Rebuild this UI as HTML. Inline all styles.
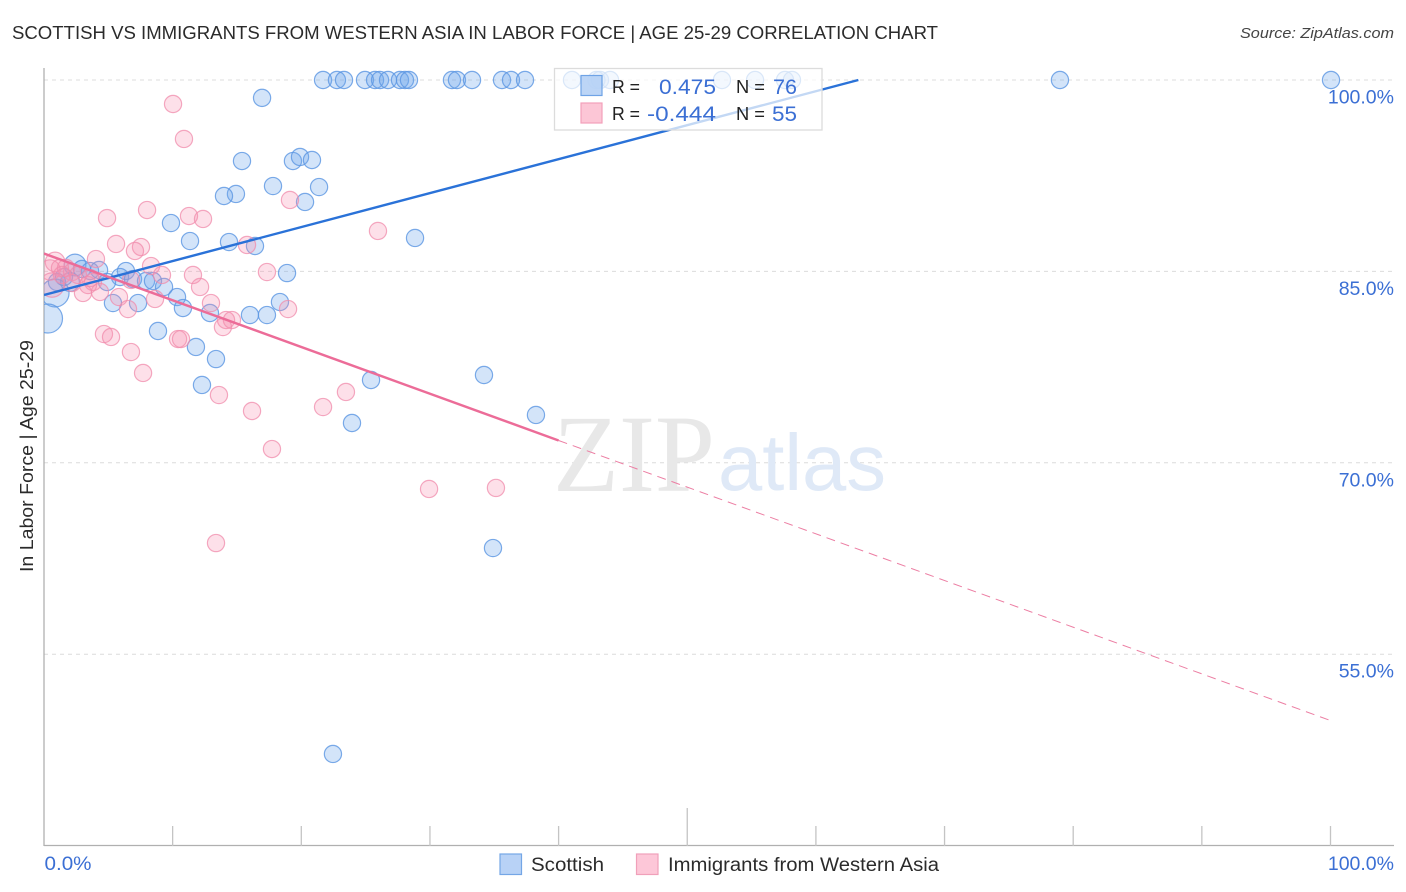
<!DOCTYPE html>
<html lang="en">
<head>
<meta charset="utf-8">
<title>Scottish vs Immigrants from Western Asia in Labor Force | Age 25-29 Correlation Chart</title>
<style>
html,body{margin:0;padding:0;background:#fff;}
svg{display:block;font-family:"Liberation Sans",sans-serif;}
</style>
</head>
<body>
<svg id="chart" xmlns="http://www.w3.org/2000/svg" width="1406" height="892" viewBox="0 0 1406 892">
<defs><clipPath id="plot-clip"><rect x="44" y="0" width="1362" height="892"/></clipPath></defs>
<text x="12" y="39" font-size="18.5" fill="#2b2b2b" textLength="926" lengthAdjust="spacingAndGlyphs">SCOTTISH VS IMMIGRANTS FROM WESTERN ASIA IN LABOR FORCE | AGE 25-29 CORRELATION CHART</text>
<text x="1394" y="38" font-size="15" font-style="italic" fill="#444" text-anchor="end" textLength="154" lengthAdjust="spacingAndGlyphs">Source: ZipAtlas.com</text>
<g id="grid"></g>
<g>
<text x="553" y="491" font-family="'Liberation Serif',serif" font-size="110" fill="#e8e8e8" textLength="162" lengthAdjust="spacingAndGlyphs">ZIP</text>
<text x="718" y="490" font-family="'Liberation Sans',sans-serif" font-size="80" fill="#dfe9f7" textLength="168" lengthAdjust="spacingAndGlyphs">atlas</text>
</g>
<g id="axes">
<line x1="44" y1="68" x2="44" y2="846" stroke="#b0b0b0" stroke-width="1.3"/>
<line x1="44" y1="845.5" x2="1394" y2="845.5" stroke="#b0b0b0" stroke-width="1.3"/>
</g>
<g clip-path="url(#plot-clip)">
<g id="points-blue"></g>
<g id="points-pink"></g>
<g id="trends"></g>
</g>
<text transform="translate(33,572) rotate(-90)" font-size="18" fill="#2b2b2b" textLength="232" lengthAdjust="spacingAndGlyphs">In Labor Force | Age 25-29</text>
<g id="ticklabels"></g>
<g>
<rect x="554.5" y="68.5" width="267.5" height="61.5" fill="#fff" fill-opacity="0.72" stroke="#dcdcdc" stroke-width="1.3"/>
<rect x="581" y="75.5" width="21" height="20" fill="#b5d0f5" fill-opacity="0.9" stroke="#6fa3e6" stroke-width="1.2"/>
<rect x="581" y="103" width="21" height="20" fill="#fcc6d6" stroke="#f2a0ba" stroke-width="1.2"/>
<g font-size="18.5" fill="#222">
<text x="612" y="93" textLength="28" lengthAdjust="spacingAndGlyphs">R =</text>
<text x="612" y="120" textLength="28" lengthAdjust="spacingAndGlyphs">R =</text>
<text x="736" y="93" textLength="29" lengthAdjust="spacingAndGlyphs">N =</text>
<text x="736" y="120" textLength="29" lengthAdjust="spacingAndGlyphs">N =</text>
</g>
<g font-size="21" fill="#3b6fd4">
<text x="659" y="94" textLength="57" lengthAdjust="spacingAndGlyphs">0.475</text>
<text x="647" y="121" textLength="69" lengthAdjust="spacingAndGlyphs">-0.444</text>
<text x="773" y="94" textLength="24" lengthAdjust="spacingAndGlyphs">76</text>
<text x="772" y="121" textLength="25" lengthAdjust="spacingAndGlyphs">55</text>
</g>
</g>
<g>
<rect x="500" y="854" width="21.5" height="20.5" fill="#b8d2f6" stroke="#74a6e6" stroke-width="1.2"/>
<text x="531" y="871" font-size="19" fill="#2b2b2b" textLength="73" lengthAdjust="spacingAndGlyphs">Scottish</text>
<rect x="636.5" y="854" width="21.5" height="20.5" fill="#fdc7d8" stroke="#f0a0ba" stroke-width="1.2"/>
<text x="668" y="871" font-size="19" fill="#2b2b2b" textLength="271" lengthAdjust="spacingAndGlyphs">Immigrants from Western Asia</text>
</g>
</svg>
<script>
const yTicks = [100, 85, 70, 55];
const yTickLabels = ["100.0%", "85.0%", "70.0%", "55.0%"];
const xTicks = [0, 10, 20, 30, 40, 50, 60, 70, 80, 90, 100];
const xMajorTick = [50];
const xEndLabels = ["0.0%", "100.0%"];

const scottishX = [21.69,22.77,23.32,24.95,25.73,26.12,26.74,27.67,28.06,28.37,31.71,32.10,33.27,35.60,36.30,37.39,41.04,42.94,43.22,44.00,52.70,55.27,57.60,58.14,78.97,100.04,
16.95,15.39,19.35,19.90,20.83,17.80,21.38,14.92,13.99,20.29,9.87,11.35,14.38,16.40,28.84,18.89,2.41,2.95,3.58,4.28,6.37,5.91,6.92,4.90,7.93,8.47,9.33,1.01,2.02,10.34,5.36,7.31,10.80,12.90,16.01,17.33,18.34,8.86,11.81,13.37,12.28,25.42,34.20,38.24,23.94,34.90,22.46,0.86,0.31,1.55];
const scottishY = [100,100,100,100,100,100,100,100,100,100,100,100,100,100,100,100,100,100,100,100,100,100,100,100,100,100,
98.60,93.65,93.65,93.97,93.73,91.69,91.61,91.07,90.91,90.44,88.79,87.38,87.30,86.99,87.62,84.87,85.50,85.19,85.03,85.11,85.03,84.56,84.40,84.17,84.25,84.25,83.78,84.17,84.17,82.99,82.52,82.52,82.13,81.74,81.58,81.58,82.60,80.33,79.08,78.13,76.10,76.49,76.88,73.75,73.12,63.32,47.18,83.31,81.31,84.56];
const scottishWeight = [1,1,1,1,1,1,1,1,1,1,1,1,1,1,1,1,1,1,1,1,1,1,1,1,1,1,
1,1,1,1,1,1,1,1,1,1,1,1,1,1,1,1,1.6,1,1,1,1,1,1,1,1,1,1,1,1.2,1,1,1,1,1,1,1,1,1,1,1,1,1,1,1,1,1,1,2.65,2.85,1];

const immigrantsX = [10.03,10.88,4.90,8.01,11.27,12.36,19.12,25.96,5.60,7.54,7.07,15.78,4.04,8.32,9.17,11.58,17.33,12.13,0.86,0.47,1.24,1.71,2.18,1.40,2.64,3.81,3.42,3.03,4.35,5.83,6.53,8.63,12.98,14.15,14.61,13.91,18.97,4.66,5.21,10.42,10.65,6.76,7.70,13.60,16.17,21.69,23.47,17.72,29.93,35.13,13.37,0.62,6.76,2.18,3.58];
const immigrantsY = [98.12,95.38,89.18,89.81,89.34,89.11,90.60,88.17,87.15,86.91,86.60,87.07,85.97,85.42,84.72,84.72,84.95,83.78,85.74,85.11,85.27,85.27,84.95,84.72,84.72,84.17,83.93,83.31,83.39,82.99,82.05,82.84,82.52,81.19,81.19,80.64,82.05,80.09,79.86,79.70,79.70,78.68,77.04,75.31,74.06,74.37,75.55,71.08,67.95,68.03,63.71,83.93,84.33,84.09,84.48];
const immigrantsWeight = [1,1,1,1,1,1,1,1,1,1,1,1,1,1,1,1,1,1,1.3,1.4,1,1,1,1,1,1,1,1,1,1,1,1,1,1,1,1,1,1,1,1,1,1,1,1,1,1,1,1,1,1,1,2,1,1,1];

const scottishTrendX = [0, 63.3];
const scottishTrendY = [83.15, 100];
const immigrantsTrendX = [0, 40, 100];
const immigrantsTrendY = [86.4, 71.75, 49.8];

const NS = "http://www.w3.org/2000/svg";
function xScale(v){ return 44 + v * 12.865; }
function yScale(v){ return 80 + (100 - v) * 12.76; }
function rScale(w){ return 8.6 * Math.sqrt(w) ; }
function make(tag, parent, attrs){
  const el = document.createElementNS(NS, tag);
  for (const k in attrs) el.setAttribute(k, attrs[k]);
  parent.appendChild(el);
  return el;
}

const gridG = document.getElementById("grid");
const axesG = document.getElementById("axes");
const labelsG = document.getElementById("ticklabels");

yTicks.forEach(function(t, i){
  const line = make("line", gridG, {x1:44, x2:1394, y1:yScale(t), y2:yScale(t), stroke:"#dcdcdc", "stroke-width":1, "stroke-dasharray":"4 4"});
  
  
  const label = make("text", labelsG, {x:1394, y:yScale(t) + 23.5, "font-size":19.5, fill:"#3b6fd4", "text-anchor":"end"});
  
  
  label.textContent = yTickLabels[i];
});

xTicks.forEach(function(t){
  if (t === 0) return;
  const major = xMajorTick.indexOf(t) >= 0;
  const tick = make("line", axesG, {x1:xScale(t), x2:xScale(t), y1:major ? 808 : 826, y2:846, stroke:"#c4c4c4", "stroke-width":1.3});
  
  
});

const x0Label = make("text", labelsG, {x:44.5, y:870, "font-size":19.5, fill:"#3b6fd4", textLength:47, lengthAdjust:"spacingAndGlyphs"});


x0Label.textContent = xEndLabels[0];
const x1Label = make("text", labelsG, {x:1394, y:870, "font-size":19.5, fill:"#3b6fd4", "text-anchor":"end"});


x1Label.textContent = xEndLabels[1];

const blueG = document.getElementById("points-blue");
scottishX.forEach(function(v, i){
  const c = make("circle", blueG, {cx:xScale(v), cy:yScale(scottishY[i]), r:rScale(scottishWeight[i]), fill:"#6ea6ec", "fill-opacity":0.3, stroke:"#5b96e2", "stroke-opacity":0.8, "stroke-width":1.2});
  
  
});

const pinkG = document.getElementById("points-pink");
immigrantsX.forEach(function(v, i){
  const c = make("circle", pinkG, {cx:xScale(v), cy:yScale(immigrantsY[i]), r:rScale(immigrantsWeight[i]), fill:"#f78fb0", "fill-opacity":0.28, stroke:"#f08cac", "stroke-opacity":0.75, "stroke-width":1.2});
  
  
});

const trendsG = document.getElementById("trends");
const blueTrend = make("line", trendsG, {x1:xScale(scottishTrendX[0]), y1:yScale(scottishTrendY[0]), x2:xScale(scottishTrendX[1]), y2:yScale(scottishTrendY[1]), stroke:"#2a72d8", "stroke-width":2.4});


const pinkTrend = make("line", trendsG, {x1:xScale(immigrantsTrendX[0]), y1:yScale(immigrantsTrendY[0]), x2:xScale(immigrantsTrendX[1]), y2:yScale(immigrantsTrendY[1]), stroke:"#ec6c98", "stroke-width":2.4});


const pinkDash = make("line", trendsG, {x1:xScale(immigrantsTrendX[1]), y1:yScale(immigrantsTrendY[1]), x2:xScale(immigrantsTrendX[2]), y2:yScale(immigrantsTrendY[2]), stroke:"#ec7ea3", "stroke-width":1, "stroke-dasharray":"9 6"});


</script>
</body>
</html>
